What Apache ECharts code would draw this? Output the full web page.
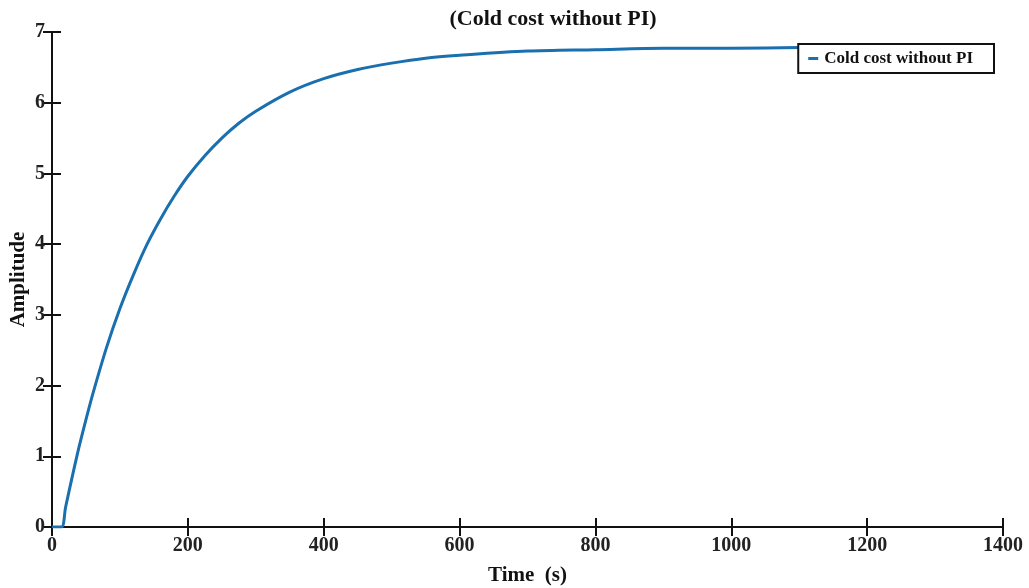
<!DOCTYPE html>
<html>
<head>
<meta charset="utf-8">
<script src="https://cdn.jsdelivr.net/npm/echarts@6/dist/echarts.min.js"></script>
<style>
  html, body { margin: 0; padding: 0; background: #fff; }
  #chart { width: 1029px; height: 588px; }
</style>
</head>
<body>
<div id="chart"></div>
<script>
// Step response of the cold cost loop without PI control
const timeSec = [0, 14, 20, 30, 40, 50, 60, 80, 100, 120, 140, 160, 180, 200, 225, 250, 275, 300,
                 350, 400, 450, 500, 550, 600, 700, 800, 900, 1000, 1100, 1200];
const amplitude = [0, 0, 0.28, 0.72, 1.14, 1.52, 1.88, 2.53, 3.09, 3.57, 4.00, 4.36, 4.68, 4.96, 5.25, 5.50, 5.71, 5.88,
                   6.15, 6.34, 6.47, 6.56, 6.63, 6.67, 6.73, 6.75, 6.77, 6.77, 6.78, 6.78];
const xTicks = [0, 200, 400, 600, 800, 1000, 1200, 1400];
const yTicks = [0, 1, 2, 3, 4, 5, 6, 7];
const seriesName = 'Cold cost without PI';

const points = timeSec.map((t, i) => [t, amplitude[i]]);
const serif = '"Liberation Serif", "DejaVu Serif", serif';

const chart = echarts.init(document.getElementById('chart'));
const axisLine = { show: true, lineStyle: { color: '#111', width: 2 } };
const tickIn = { show: true, inside: true, length: 9, lineStyle: { color: '#111', width: 2 } };
const tickLabel = { fontFamily: serif, fontWeight: 'bold', fontSize: 20, color: '#222' };

chart.setOption({
  animation: false,
  backgroundColor: '#fff',
  title: {
    text: '(Cold cost without PI)',
    left: 548,
    top: 3,
    textAlign: 'center',
    textStyle: { fontFamily: serif, fontWeight: 'bold', fontSize: 22, color: '#111' }
  },
  legend: {
    data: [seriesName],
    right: 35,
    top: 44,
    orient: 'vertical',
    backgroundColor: '#fff',
    borderColor: '#111',
    borderWidth: 2,
    borderRadius: 0,
    padding: [6, 21, 6, 10],
    itemWidth: 10,
    itemHeight: 3,
    icon: 'rect',
    textStyle: { fontFamily: serif, fontWeight: 'bold', fontSize: 17, color: '#111', padding: [0, 0, 0, 1] }
  },
  grid: { left: 52, right: 26, top: 32, bottom: 61, containLabel: false, outerBoundsMode: 'none' },
  xAxis: [{
    type: 'value',
    min: xTicks[0],
    max: xTicks[xTicks.length - 1],
    interval: 200,
    name: 'Time  (s)',
    nameLocation: 'middle',
    nameGap: 38,
    nameMoveOverlap: false,
    nameTextStyle: { fontFamily: serif, fontWeight: 'bold', fontSize: 21, color: '#111' },
    axisLine: axisLine,
    axisTick: tickIn,
    splitLine: { show: false },
    axisLabel: Object.assign({ margin: 9, formatter: v => String(v) }, tickLabel)
  }, {
    type: 'value',
    position: 'top',
    min: xTicks[0],
    max: xTicks[xTicks.length - 1],
    interval: 200,
    axisLine: axisLine,
    axisTick: tickIn,
    axisLabel: { show: false },
    splitLine: { show: false }
  }],
  yAxis: [{
    type: 'value',
    min: yTicks[0],
    max: yTicks[yTicks.length - 1],
    interval: 1,
    name: 'Amplitude',
    nameLocation: 'middle',
    nameGap: 23,
    nameMoveOverlap: false,
    nameTextStyle: { fontFamily: serif, fontWeight: 'bold', fontSize: 21, color: '#111' },
    axisLine: axisLine,
    axisTick: tickIn,
    splitLine: { show: false },
    axisLabel: Object.assign({ margin: 7 }, tickLabel)
  }, {
    type: 'value',
    position: 'right',
    min: yTicks[0],
    max: yTicks[yTicks.length - 1],
    interval: 1,
    axisLine: axisLine,
    axisTick: tickIn,
    axisLabel: { show: false },
    splitLine: { show: false }
  }],
  series: [{
    name: seriesName,
    type: 'line',
    data: points,
    smooth: 0.3,
    showSymbol: false,
    lineStyle: { color: '#1a6fae', width: 3 },
    itemStyle: { color: '#1a6fae' },
    z: 1
  }]
});
</script>
</body>
</html>
